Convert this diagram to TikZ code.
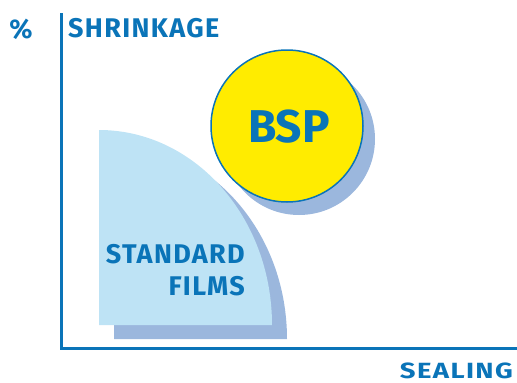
\documentclass[tikz,border=0pt]{standalone}
\usepackage{fontspec}
\setmainfont{Fira Sans}
\newfontfamily\capfont[LetterSpace=5]{Fira Sans}
\definecolor{labelblue}{HTML}{0A74B8}
\definecolor{filmblue}{HTML}{BEE3F5}
\definecolor{shadeblue}{HTML}{9BB7DD}
\definecolor{bspyellow}{HTML}{FFEC00}
\tikzset{
  axis/.style={draw=labelblue, line width=3pt},
  caption/.style={text=labelblue, inner sep=0pt, text depth=0pt, font=\capfont\fontsize{27}{30}\selectfont\bfseries}
}

\begin{document}
\begin{tikzpicture}[x=1pt,y=-1pt]
		\useasboundingbox (0,0) rectangle (517,383);
		% standard films, shadow first
		\fill[shadeblue] (114,339)--(114,144) arc[start angle=270, end angle=360, x radius=173, y radius=195]--cycle;
		\fill[filmblue] (99,325)--(99,130) arc[start angle=270, end angle=360, x radius=173, y radius=195]--cycle;
		\node [caption, anchor=base east] (std) at (245,263) {STANDARD};
		\node [caption, anchor=base east] (films) at (245,295) {FILMS};
		% bsp circle
		\fill[shadeblue] (299,139) circle (76);
		\node [circle, minimum size=152pt, inner sep=0pt, fill=bspyellow, draw=labelblue, line width=1.5pt] (bsp) at (287,126) {};
		\node [caption, anchor=base, font=\fontsize{46}{50}\selectfont\bfseries] (bsptext) at (289,142) {BSP};
		% axes
		\coordinate (top) at (61,13);
		\coordinate (origin) at (61,348);
		\coordinate (end) at (517,348);
		\draw [axis] (top)--(origin)--(end);
		\node [caption, anchor=base] (pct) at (21,38) {\%};
		\node [caption, anchor=base west] (shrink) at (68,37) {SHRINKAGE};
		\node [caption, anchor=base east, font=\capfont\fontsize{22}{24}\selectfont\bfseries] (seal) at (513,378) {\scalebox{1.25}[1]{SEALING}};
	\end{tikzpicture}
\end{document}
